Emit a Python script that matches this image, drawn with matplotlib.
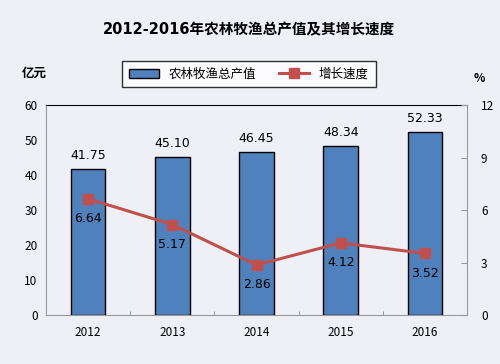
import matplotlib
matplotlib.use("Agg")
import matplotlib.pyplot as plt
import numpy as np

plt.rcParams['font.family'] = ['Noto Sans CJK SC', 'DejaVu Sans']

years = ['2012', '2013', '2014', '2015', '2016']
output_value = [41.75, 45.10, 46.45, 48.34, 52.33]
growth_rate = [6.64, 5.17, 2.86, 4.12, 3.52]
left_ticks = [0, 10, 20, 30, 40, 50, 60]
right_ticks = [0, 3, 6, 9, 12]

bg = '#eef0f6'
fig = plt.figure(figsize=(5.0, 3.64), dpi=100, facecolor=bg)
ax = fig.add_axes([46/500, 1-315/364, 421/500, 210/364])
ax.set_facecolor(bg)
x = np.arange(len(years))
bars = ax.bar(x, output_value, width=0.41, color='#4F81BD', edgecolor='black', linewidth=1.0,
              label='农林牧渔总产值', zorder=2)
ax.set_xlim(-0.5, 4.5)
ax.set_ylim(0, 60)
ax.set_yticks(left_ticks)
ax.set_xticks(x)
ax.set_xticklabels(years)
ax.set_xticks(np.arange(-0.5, 5.0, 1.0), minor=True)
ax.tick_params(axis='x', which='major', length=0, pad=8, labelsize=8.5)
ax.tick_params(axis='x', which='minor', length=3, direction='in', color='#888888')
ax.tick_params(axis='y', length=0, pad=6, labelsize=8.5)
for s in ['left', 'bottom', 'right']:
    ax.spines[s].set_color('#999999')
ax.spines['right'].set_visible(False)
ax.spines['top'].set_color('black')
for xi, v in zip(x, output_value):
    ax.text(xi, v + 2.0, f'{v:.2f}', ha='center', va='bottom', fontsize=9, color='black',
            family=['DejaVu Sans'])

ax2 = ax.twinx()
ax2.set_ylim(0, 12)
ax2.set_yticks(right_ticks)
line, = ax2.plot(x, growth_rate, color='#C0504D', linewidth=2.2, marker='s', markersize=7,
                 label='增长速度', zorder=3)
ax2.tick_params(axis='y', length=4, direction='in', pad=10, labelsize=8.5, color='#999999')
for s in ['left', 'top', 'bottom']:
    ax2.spines[s].set_visible(False)
ax2.spines['right'].set_color('#999999')
for xi, v in zip(x, growth_rate):
    ax2.text(xi, v - 0.75, f'{v:.2f}', ha='center', va='top', fontsize=9, color='black',
             family=['DejaVu Sans'])

fig.text(0.497, 1-30/364, '2012-2016年农林牧渔总产值及其增长速度', ha='center', va='center',
         fontsize=10.5, fontweight='bold', family=['DejaVu Sans', 'Noto Sans CJK SC'])
fig.text(22/500, 1-73/364, '亿元', ha='left', va='center', fontsize=9, fontweight='bold')
fig.text(479/500, 1-79/364, '%', ha='center', va='center', fontsize=8.5, fontweight='bold')

leg = fig.legend(handles=[bars, line], loc='center', bbox_to_anchor=(249/500, 1-74/364),
                 ncol=2, frameon=True, fancybox=False, edgecolor='black', facecolor='white',
                 fontsize=9, handlelength=2.4, columnspacing=1.8, borderpad=0.55)
leg.get_frame().set_linewidth(1.0)

fig.savefig('out.png', dpi=100, facecolor=bg)
